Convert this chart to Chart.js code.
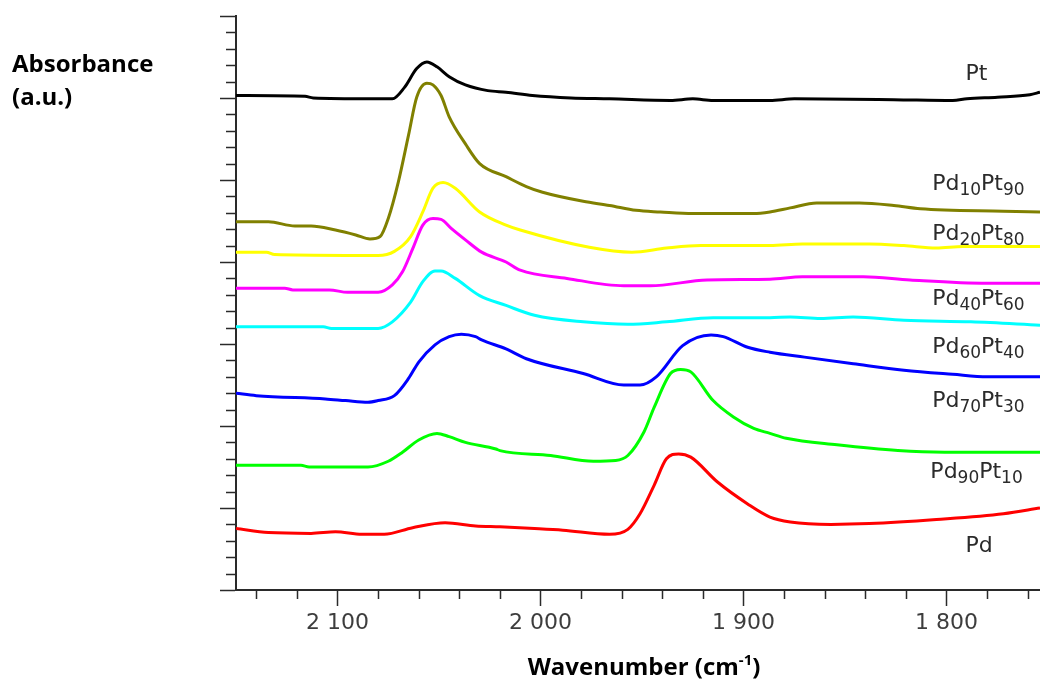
<!DOCTYPE html>
<html>
<head>
<meta charset="utf-8">
<script src="https://cdn.jsdelivr.net/npm/chart.js@4.4.1/dist/chart.umd.min.js"></script>
<style>
html,body{margin:0;padding:0;background:#fff;}
#wrap{position:relative;width:1040px;height:680px;}
</style>
</head>
<body>
<div id="wrap"><canvas id="c"></canvas></div>
<script>
// ---- data (wavenumber in cm-1, absorbance in arbitrary offset units) ----
const seriesNames = ['Pt', 'Pd10Pt90', 'Pd20Pt80', 'Pd40Pt60', 'Pd60Pt40', 'Pd70Pt30', 'Pd90Pt10', 'Pd'];

const ptWave = [2150, 2116, 2112, 2084, 2073, 2067, 2061, 2056, 2051, 2045, 2037, 2026, 2017, 2004, 1985, 1966, 1936, 1925, 1915, 1887, 1875, 1826, 1797, 1790, 1775, 1759, 1754];
const ptAbs  = [6.03, 6.02, 6.00, 5.99, 5.99, 6.13, 6.36, 6.44, 6.38, 6.26, 6.16, 6.09, 6.07, 6.03, 6.00, 5.99, 5.97, 5.99, 5.97, 5.97, 5.99, 5.98, 5.97, 5.99, 6.01, 6.04, 6.07];

const pd10Wave = [2150, 2134, 2121, 2113, 2101, 2091, 2084, 2079, 2075, 2070, 2065, 2061, 2056, 2053, 2049, 2045, 2037, 2030, 2017, 2007, 1999, 1979, 1966, 1953, 1941, 1925, 1895, 1887, 1877, 1864, 1843, 1826, 1813, 1772, 1754];
const pd10Abs  = [4.49, 4.49, 4.44, 4.44, 4.39, 4.33, 4.28, 4.31, 4.53, 4.98, 5.55, 6.01, 6.18, 6.16, 6.03, 5.77, 5.44, 5.20, 5.04, 4.92, 4.85, 4.74, 4.69, 4.63, 4.61, 4.59, 4.59, 4.61, 4.66, 4.72, 4.72, 4.69, 4.65, 4.62, 4.61];

const pd20Wave = [2150, 2135, 2131, 2096, 2080, 2072, 2064, 2058, 2053, 2048, 2042, 2030, 2017, 2010, 1976, 1955, 1938, 1921, 1887, 1871, 1838, 1821, 1805, 1792, 1754];
const pd20Abs  = [4.12, 4.12, 4.09, 4.08, 4.08, 4.13, 4.31, 4.61, 4.90, 4.97, 4.90, 4.61, 4.45, 4.39, 4.18, 4.12, 4.17, 4.20, 4.20, 4.22, 4.22, 4.20, 4.17, 4.19, 4.19];

const pd40Wave = [2150, 2126, 2122, 2104, 2095, 2080, 2073, 2068, 2063, 2058, 2053, 2049, 2044, 2037, 2029, 2017, 2010, 1987, 1959, 1946, 1918, 1887, 1871, 1841, 1818, 1780, 1754];
const pd40Abs  = [3.68, 3.68, 3.66, 3.66, 3.63, 3.63, 3.72, 3.88, 4.16, 4.45, 4.53, 4.52, 4.41, 4.27, 4.12, 4.00, 3.90, 3.80, 3.71, 3.71, 3.78, 3.79, 3.82, 3.82, 3.78, 3.74, 3.74];

const pd60Wave = [2150, 2107, 2103, 2080, 2073, 2064, 2058, 2052, 2049, 2042, 2030, 2017, 2003, 1979, 1957, 1938, 1915, 1887, 1877, 1862, 1846, 1821, 1788, 1754];
const pd60Abs  = [3.21, 3.21, 3.19, 3.19, 3.27, 3.51, 3.76, 3.89, 3.89, 3.80, 3.59, 3.47, 3.35, 3.27, 3.24, 3.27, 3.32, 3.32, 3.33, 3.31, 3.33, 3.29, 3.27, 3.23];

const pd70Wave = [2150, 2140, 2106, 2096, 2085, 2080, 2072, 2065, 2060, 2052, 2045, 2039, 2032, 2029, 2017, 2007, 1979, 1959, 1951, 1943, 1930, 1916, 1910, 1898, 1887, 1870, 1846, 1821, 1797, 1780, 1754];
const pd70Abs  = [2.40, 2.37, 2.33, 2.31, 2.29, 2.31, 2.37, 2.58, 2.78, 2.99, 3.09, 3.12, 3.09, 3.05, 2.94, 2.82, 2.64, 2.50, 2.50, 2.60, 2.98, 3.11, 3.09, 2.96, 2.90, 2.84, 2.76, 2.68, 2.63, 2.60, 2.60];

const pd90Wave = [2150, 2118, 2114, 2085, 2075, 2068, 2060, 2051, 2045, 2037, 2022, 2020, 1995, 1974, 1963, 1957, 1949, 1944, 1936, 1931, 1926, 1915, 1905, 1895, 1887, 1879, 1854, 1824, 1801, 1754];
const pd90Abs  = [1.52, 1.52, 1.50, 1.50, 1.57, 1.68, 1.83, 1.91, 1.87, 1.80, 1.72, 1.70, 1.64, 1.57, 1.58, 1.64, 1.93, 2.23, 2.64, 2.69, 2.66, 2.31, 2.11, 1.97, 1.91, 1.85, 1.77, 1.70, 1.68, 1.68];

const pdWave = [2150, 2134, 2113, 2101, 2088, 2077, 2063, 2047, 2032, 2020, 2003, 1989, 1966, 1957, 1951, 1944, 1938, 1932, 1926, 1913, 1898, 1887, 1877, 1857, 1838, 1805, 1772, 1754];
const pdAbs  = [0.75, 0.70, 0.69, 0.71, 0.68, 0.68, 0.76, 0.82, 0.78, 0.77, 0.75, 0.73, 0.68, 0.74, 0.93, 1.28, 1.60, 1.66, 1.62, 1.32, 1.05, 0.89, 0.83, 0.80, 0.81, 0.86, 0.93, 1.00];

// tick labels shown on the wavenumber axis
const xTickValues = [2100, 2000, 1900, 1800];
// major ticks on the (unlabelled) absorbance axis
const yTickValues = [0, 1, 2, 3, 4, 5, 6, 7];

// where each curve name is written (data units)
const labelWave = [1790.7, 1807.1, 1807.1, 1807.1, 1807.1, 1807.1, 1808, 1790.7];
const labelAbs  = [6.216, 4.874, 4.273, 3.48, 2.89, 2.232, 1.366, 0.463];

// ---- chart ----
const waves = [ptWave, pd10Wave, pd20Wave, pd40Wave, pd60Wave, pd70Wave, pd90Wave, pdWave];
const absVals = [ptAbs, pd10Abs, pd20Abs, pd40Abs, pd60Abs, pd70Abs, pd90Abs, pdAbs];
const colors = ['#000000', '#808000', '#ffff00', '#ff00ff', '#00ffff', '#0000ff', '#00ff00', '#ff0000'];

const datasets = seriesNames.map((name, i) => ({
  label: name,
  data: waves[i].map((w, j) => ({x: w, y: absVals[i][j]})),
  borderColor: colors[i],
  borderWidth: 3,
  pointRadius: 0,
  fill: false,
  cubicInterpolationMode: 'monotone'
}));

const AXIS = '#2a2a2a';

function drawSubText(ctx, text, x, y, size, subSize) {
  const re = /([^0-9]+)|([0-9]+)/g;
  let m, cx = x;
  while ((m = re.exec(text)) !== null) {
    if (m[1]) {
      ctx.font = size + 'px "DejaVu Sans"';
      ctx.fillText(m[1], cx, y);
      cx += ctx.measureText(m[1]).width;
    } else {
      ctx.font = subSize + 'px "DejaVu Sans"';
      ctx.fillText(m[2], cx, y + 5);
      cx += ctx.measureText(m[2]).width;
    }
  }
}

const decor = {
  id: 'decor',
  afterDraw(chart) {
    const ctx = chart.ctx;
    const xs = chart.scales.x, ys = chart.scales.y;
    const area = chart.chartArea;
    ctx.save();
    // minor ticks
    ctx.strokeStyle = AXIS;
    ctx.lineWidth = 1.5;
    ctx.beginPath();
    for (let k = 1; k < 35; k++) {
      if (k % 5 === 0) continue;
      const py = Math.round(ys.getPixelForValue(k * 0.2)) + 0.5;
      ctx.moveTo(area.left - 10, py);
      ctx.lineTo(area.left, py);
    }
    for (let w = 1760; w <= 2140; w += 20) {
      if (w % 100 === 0) continue;
      const px = Math.round(xs.getPixelForValue(w)) + 0.5;
      ctx.moveTo(px, area.bottom);
      ctx.lineTo(px, area.bottom + 9);
    }
    ctx.stroke();

    // curve names
    ctx.fillStyle = '#2b2b2b';
    ctx.textBaseline = 'alphabetic';
    ctx.textAlign = 'left';
    seriesNames.forEach((name, i) => {
      drawSubText(ctx, name, xs.getPixelForValue(labelWave[i]), ys.getPixelForValue(labelAbs[i]), 22, 17);
    });

    // axis titles
    ctx.fillStyle = '#000';
    ctx.font = 'bold 24px "Open Sans"';
    ctx.fillText('Absorbance', 12, 72);
    ctx.fillText('(a.u.)', 12, 105);

    const mainFont = 'bold 24px "Open Sans"';
    const supFont = 'bold 15px "Open Sans"';
    ctx.font = mainFont;
    const t1 = 'Wavenumber (cm', t3 = ')';
    const w1 = ctx.measureText(t1).width, w3 = ctx.measureText(t3).width;
    ctx.font = supFont;
    const w2 = ctx.measureText('-1').width;
    const total = w1 + w2 + w3;
    let sx = 644 - total / 2;
    const by = 675;
    ctx.font = mainFont;
    ctx.fillText(t1, sx, by);
    ctx.font = supFont;
    ctx.fillText('-1', sx + w1, by - 10);
    ctx.font = mainFont;
    ctx.fillText(t3, sx + w1 + w2, by);
    ctx.restore();
  }
};

new Chart(document.getElementById('c'), {
  type: 'line',
  data: {datasets},
  options: {
    responsive: true,
    maintainAspectRatio: false,
    devicePixelRatio: 1,
    animation: false,
    events: [],
    layout: {padding: {top: 16, left: 0, right: 0, bottom: 0}},
    plugins: {legend: {display: false}, tooltip: {enabled: false}},
    scales: {
      x: {
        type: 'linear',
        reverse: true,
        min: 1754,
        max: 2150,
        border: {display: true, color: AXIS, width: 2},
        grid: {display: true, drawOnChartArea: false, drawTicks: true, tickLength: 16, tickColor: AXIS, tickWidth: 1.5},
        afterBuildTicks(scale) { scale.ticks = xTickValues.map(v => ({value: v})); },
        ticks: {
          autoSkip: false,
          maxRotation: 0,
          padding: 4,
          color: '#3d3d3d',
          font: {family: '"DejaVu Sans"', size: 22},
          callback: (v) => String(v).replace(/\B(?=(\d{3})+(?!\d))/g, ' ')
        },
        afterFit(scale) { scale.height = 90; scale.paddingLeft = 0; scale.paddingRight = 0; }
      },
      y: {
        type: 'linear',
        min: 0,
        max: 7,
        border: {display: true, color: AXIS, width: 2},
        grid: {display: true, drawOnChartArea: false, drawTicks: true, tickLength: 16, tickColor: AXIS, tickWidth: 1.5},
        afterBuildTicks(scale) { scale.ticks = yTickValues.map(v => ({value: v})); },
        ticks: {display: false},
        afterFit(scale) { scale.width = 236; scale.paddingTop = 0; scale.paddingBottom = 0; }
      }
    }
  },
  plugins: [decor]
});
</script>
</body>
</html>
